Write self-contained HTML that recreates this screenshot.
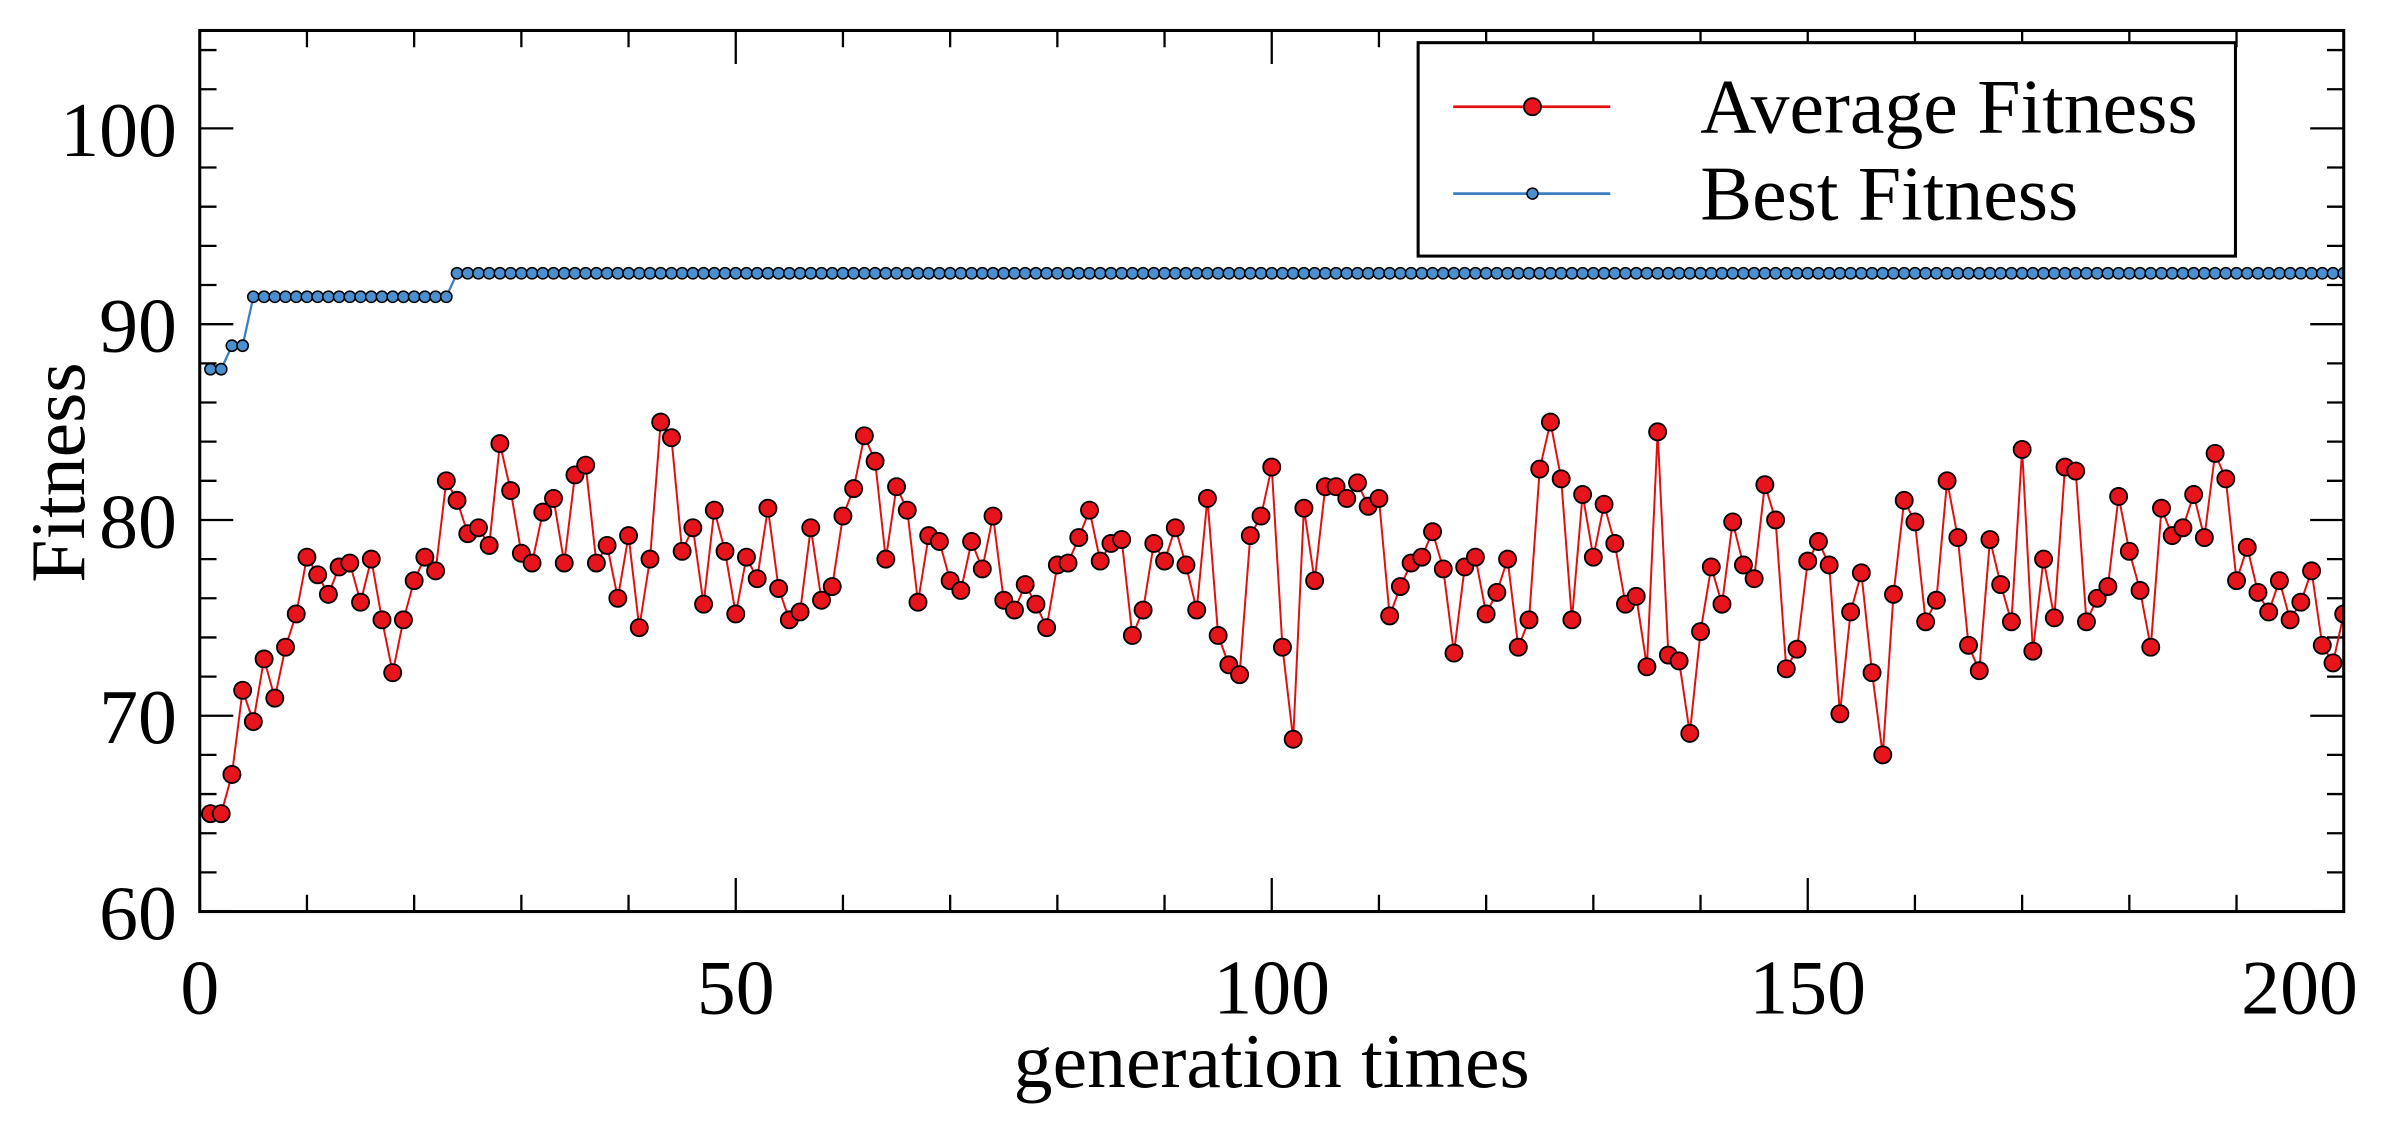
<!DOCTYPE html>
<html><head><meta charset="utf-8"><style>
html,body{margin:0;padding:0;background:#fff;}
svg{display:block;}
text{font-family:"Liberation Serif",serif;fill:#000;}
</style></head><body>
<svg id="s" width="2391" height="1128" viewBox="0 0 1568 740" preserveAspectRatio="none" xmlns="http://www.w3.org/2000/svg">
<g id="g"></g>
</svg>
<script>
var avg=[65,65,67,71.3,69.7,72.9,70.9,73.5,75.2,78.1,77.2,76.2,77.6,77.8,75.8,78,74.9,72.2,74.9,76.9,78.1,77.4,82,81,79.3,79.6,78.7,83.9,81.5,78.3,77.8,80.4,81.1,77.8,82.3,82.8,77.8,78.7,76,79.2,74.5,78,85,84.2,78.4,79.6,75.7,80.5,78.4,75.2,78.1,77,80.6,76.5,74.9,75.3,79.6,75.9,76.6,80.2,81.6,84.3,83,78,81.7,80.5,75.8,79.2,78.9,76.9,76.4,78.9,77.5,80.2,75.9,75.4,76.7,75.7,74.5,77.7,77.8,79.1,80.5,77.9,78.8,79,74.1,75.4,78.8,77.9,79.6,77.7,75.4,81.1,74.1,72.6,72.1,79.2,80.2,82.7,73.5,68.8,80.6,76.9,81.7,81.7,81.1,81.9,80.7,81.1,75.1,76.6,77.8,78.1,79.4,77.5,73.2,77.6,78.1,75.2,76.3,78,73.5,74.9,82.6,85,82.1,74.9,81.3,78.1,80.8,78.8,75.7,76.1,72.5,84.5,73.1,72.8,69.1,74.3,77.6,75.7,79.9,77.7,77,81.8,80,72.4,73.4,77.9,78.9,77.7,70.1,75.3,77.3,72.2,68,76.2,81,79.9,74.8,75.9,82,79.1,73.6,72.3,79,76.7,74.8,83.6,73.3,78,75,82.7,82.5,74.8,76,76.6,81.2,78.4,76.4,73.5,80.6,79.2,79.6,81.3,79.1,83.4,82.1,76.9,78.6,76.3,75.3,76.9,74.9,75.8,77.4,73.6,72.7,75.2];
var L=131,R=1537,T=20,B=598;
function X(v){return L+(R-L)*v/200;}
function Y(v){return B-(B-T)*(v-60)/45;}
var h='';
h+='<defs><clipPath id="c"><rect x="'+L+'" y="'+T+'" width="'+(R-L)+'" height="'+(B-T)+'"/></clipPath></defs>';
for(var i=0;i<=200;i+=10){var x=X(i),len=(i%50==0)?22:11;
h+='<line x1="'+x+'" y1="'+B+'" x2="'+x+'" y2="'+(B-len)+'" stroke="#000" stroke-width="1.5"/>';
h+='<line x1="'+x+'" y1="'+T+'" x2="'+x+'" y2="'+(T+len)+'" stroke="#000" stroke-width="1.5"/>';
if(i%50==0){var ax=(i==200)?1508:x;h+='<text x="'+ax+'" y="665" font-size="51" text-anchor="middle">'+i+'</text>';}}
for(var v=60;v<=104;v+=2){var y=Y(v),len=(v%10==0)?22:11;
h+='<line x1="'+L+'" y1="'+y+'" x2="'+(L+len)+'" y2="'+y+'" stroke="#000" stroke-width="1.5"/>';
h+='<line x1="'+R+'" y1="'+y+'" x2="'+(R-len)+'" y2="'+y+'" stroke="#000" stroke-width="1.5"/>';
if(v%10==0)h+='<text x="116" y="'+(y+18)+'" font-size="51" text-anchor="end">'+v+'</text>';}
h+='<text x="834" y="713" font-size="51" text-anchor="middle">generation times</text>';
h+='<text transform="translate(55,310) rotate(-90)" font-size="51" text-anchor="middle">Fitness</text>';
h+='<g clip-path="url(#c)">';
var best=[];for(var k=1;k<=200;k++){best.push(k<=2?87.7:k<=4?88.9:k<=23?91.4:92.6);}
var p='';for(var k=0;k<200;k++)p+=(k?'L':'M')+X(k+1).toFixed(2)+' '+Y(best[k]).toFixed(2);
h+='<path d="'+p+'" fill="none" stroke="#3a7fc4" stroke-width="1.5"/>';
for(var k=0;k<200;k++)h+='<circle cx="'+X(k+1)+'" cy="'+Y(best[k])+'" r="3.7" fill="#4a90d0" stroke="#000" stroke-width="1"/>';
p='';for(var k=0;k<200;k++)p+=(k?'L':'M')+X(k+1).toFixed(2)+' '+Y(avg[k]).toFixed(2);
h+='<path d="'+p+'" fill="none" stroke="#e01010" stroke-width="1.3"/>';
for(var k=0;k<200;k++)h+='<circle cx="'+X(k+1)+'" cy="'+Y(avg[k])+'" r="5.6" fill="#e8141c" stroke="#000" stroke-width="1.2"/>';
h+='</g>';
h+='<rect x="'+L+'" y="'+T+'" width="'+(R-L)+'" height="'+(B-T)+'" fill="none" stroke="#000" stroke-width="2"/>';
h+='<rect x="930" y="28" width="536" height="140" fill="#fff" stroke="#000" stroke-width="2"/>';
h+='<line x1="953" y1="70" x2="1056" y2="70" stroke="#e01010" stroke-width="1.8"/><circle cx="1005" cy="70" r="5.6" fill="#e8141c" stroke="#000" stroke-width="1.2"/>';
h+='<line x1="953" y1="127" x2="1056" y2="127" stroke="#3a7fc4" stroke-width="1.8"/><circle cx="1005" cy="127" r="3.6" fill="#4a90d0" stroke="#000" stroke-width="1"/>';
h+='<text x="1115" y="87" font-size="51">Average Fitness</text>';
h+='<text x="1115" y="144" font-size="51">Best Fitness</text>';
document.getElementById('g').innerHTML=h;
</script>
</body></html>
